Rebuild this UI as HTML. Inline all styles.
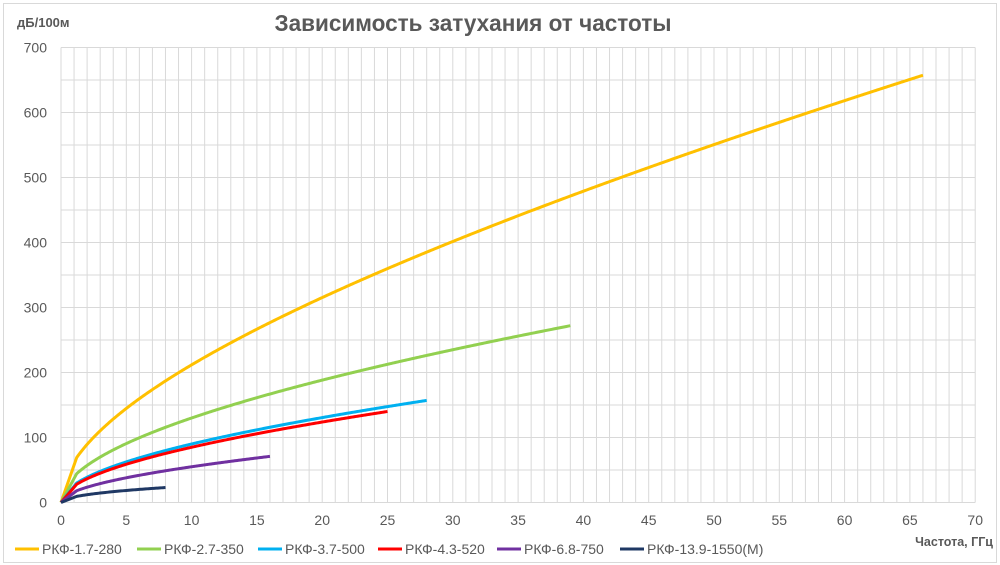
<!DOCTYPE html>
<html><head><meta charset="utf-8"><style>
html,body{margin:0;padding:0;background:#fff;}
svg{display:block;font-family:"Liberation Sans","DejaVu Sans",sans-serif;}
</style></head><body>
<svg id="s" width="1000" height="565" xmlns="http://www.w3.org/2000/svg">
<rect x="3.5" y="3.5" width="993" height="559" fill="#fff" stroke="#d9d9d9"/>
<g id="grid"></g>
<text x="473" y="31" text-anchor="middle" font-size="23" font-weight="bold" fill="#595959" textLength="397" lengthAdjust="spacingAndGlyphs">Зависимость затухания от частоты</text>
<text x="17" y="27" font-size="13" font-weight="bold" fill="#595959">дБ/100м</text>
<text x="993" y="546" text-anchor="end" font-size="12.5" font-weight="bold" fill="#595959">Частота, ГГц</text>
<g id="ticks" font-size="14" fill="#595959"></g>
<g id="series" fill="none" stroke-width="3" stroke-linejoin="round"></g>
<g id="legend" font-size="14" fill="#595959"></g>
</svg>
<script>
var NS="http://www.w3.org/2000/svg";
function el(t,a,p,txt){var e=document.createElementNS(NS,t);for(var k in a)e.setAttribute(k,a[k]);if(txt!==undefined)e.textContent=txt;p.appendChild(e);return e;}
var X0=61,XS=13.06,Y0=502.5,YS=0.65;
function X(f){return X0+f*XS;} function Y(v){return Y0-v*YS;}
var g=document.getElementById('grid'),tk=document.getElementById('ticks');
for(var i=0;i<=70;i++){el('line',{x1:X(i),x2:X(i),y1:Y(700),y2:Y(0),stroke:'#d9d9d9','stroke-width':1},g);}
for(var v=0;v<=700;v+=50){el('line',{x1:X(0),x2:X(70),y1:Y(v),y2:Y(v),stroke:'#d9d9d9','stroke-width':1},g);}
for(var v=0;v<=700;v+=100){el('text',{x:47,y:Y(v)+5,'text-anchor':'end'},tk,String(v));}
for(var i=0;i<=70;i+=5){el('text',{x:X(i),y:525,'text-anchor':'middle'},tk,String(i));}
var S=[
 ['#ffc000',56.5,2.95,66,'РКФ-1.7-280',15,3.6],
 ['#92d050',37.65,0.894,39,'РКФ-2.7-350',137,2],
 ['#00b0f0',26.66,0.57,28,'РКФ-3.7-500',258,0],
 ['#ff0000',24.95,0.61,25,'РКФ-4.3-520',378,0],
 ['#7030a0',16.06,0.42,16,'РКФ-6.8-750',497,0],
 ['#1f3864',8.84,-0.25,8,'РКФ-13.9-1550(M)',620,0]
];
var sg=document.getElementById('series'),lg=document.getElementById('legend');
S.forEach(function(s){
 function fn(f){return s[1]*Math.sqrt(f)+s[2]*f+s[6];}
 var k=1.2;
 var d='M'+X(0)+' '+Y(0)+' L'+X(k).toFixed(2)+' '+Y(fn(k)).toFixed(2);
 for(var f=k+0.1;f<=s[3]+1e-9;f+=0.1){d+=' L'+X(f).toFixed(2)+' '+Y(fn(f)).toFixed(2);}
 el('path',{d:d,stroke:s[0]},sg);
 el('line',{x1:s[5],x2:s[5]+24,y1:549,y2:549,stroke:s[0],'stroke-width':3},lg);
 el('text',{x:s[5]+27,y:554},lg,s[4]);
});
</script>
</body></html>
